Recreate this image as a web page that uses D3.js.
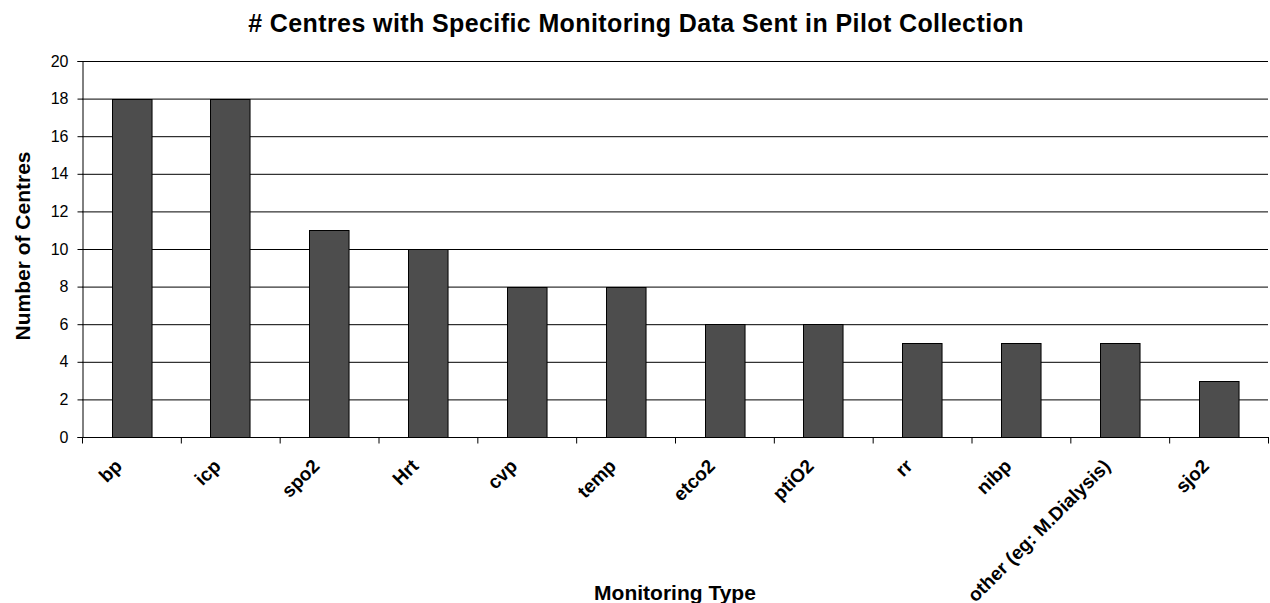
<!DOCTYPE html>
<html><head><meta charset="utf-8">
<script src="https://cdn.jsdelivr.net/npm/d3@7"></script>
<style>body{margin:0;background:#fff}text{font-family:"Liberation Sans",Arial,sans-serif}</style>
</head><body><svg id="c" width="1270" height="603"></svg>
<script>
const categories = ["bp","icp","spo2","Hrt","cvp","temp","etco2","ptiO2","rr","nibp","other (eg: M.Dialysis)","sjo2"];
const values = [18,18,11,10,8,8,6,6,5,5,5,3];
const yTicks = [0,2,4,6,8,10,12,14,16,18,20];
const title = "# Centres with Specific Monitoring Data Sent in Pilot Collection";
const xTitle = "Monitoring Type";
const yTitle = "Number of Centres";

const svg = d3.select("#c");
const m = {l:82, r:1268, t:61, b:437};
const x = d3.scaleBand().domain(categories).range([m.l, m.r]).paddingInner(0.6).paddingOuter(0.3);
const xb = d3.scaleBand().domain(categories).range([m.l, m.r]);
const y = d3.scaleLinear().domain([0,20]).range([m.b, m.t]);

svg.append("g").selectAll("line").data(yTicks.filter(d=>d>0)).join("line")
  .attr("x1", m.l).attr("x2", m.r).attr("y1", d=>y(d)+0.5).attr("y2", d=>y(d)+0.5)
  .attr("stroke","#000").attr("stroke-width",1);

svg.append("g").selectAll("rect").data(values).join("rect")
  .attr("x",(d,i)=>Math.round(x(categories[i]))+0.5)
  .attr("y",d=>Math.round(y(d))+0.5)
  .attr("width",x.bandwidth())
  .attr("height",d=>y(0)-Math.round(y(d)))
  .attr("fill","#4d4d4d").attr("stroke","#000").attr("stroke-width",1);

const ya = svg.append("g").attr("transform",`translate(${m.l+0.5},0)`)
  .call(d3.axisLeft(y).tickValues(yTicks).tickSize(5).tickPadding(9));
ya.selectAll("text").attr("font-size",16).attr("fill","#000").style("font-family","Liberation Sans, Arial, sans-serif");
ya.selectAll("line,path").attr("stroke","#000");

const xa = svg.append("g").attr("transform",`translate(0,${m.b+0.5})`);
xa.append("line").attr("x1",m.l).attr("x2",m.r+1).attr("stroke","#000");
xa.selectAll("line.t").data(categories.concat(["_end"])).join("line").attr("class","t")
  .attr("x1",(d,i)=>i<categories.length? xb(d)+0.5 : m.r+0.5)
  .attr("x2",(d,i)=>i<categories.length? xb(d)+0.5 : m.r+0.5)
  .attr("y1",0).attr("y2",6).attr("stroke","#000");
xa.selectAll("text").data(categories).join("text")
  .attr("transform",d=>`translate(${xb(d)+xb.bandwidth()/2-13},${25}) rotate(-45)`)
  .attr("text-anchor","end").attr("dy","0.35em")
  .attr("font-size",19).attr("font-weight","bold").text(d=>d);

svg.append("text").attr("x",636).attr("y",32).attr("text-anchor","middle")
  .attr("font-size",25).attr("font-weight","bold").style("letter-spacing","0.4px").text(title);
svg.append("text").attr("x",675).attr("y",600).attr("text-anchor","middle")
  .attr("font-size",21).attr("font-weight","bold").text(xTitle);
svg.append("text").attr("transform","translate(30,246) rotate(-90)").attr("text-anchor","middle")
  .attr("font-size",21).attr("font-weight","bold").text(yTitle);
</script></body></html>
